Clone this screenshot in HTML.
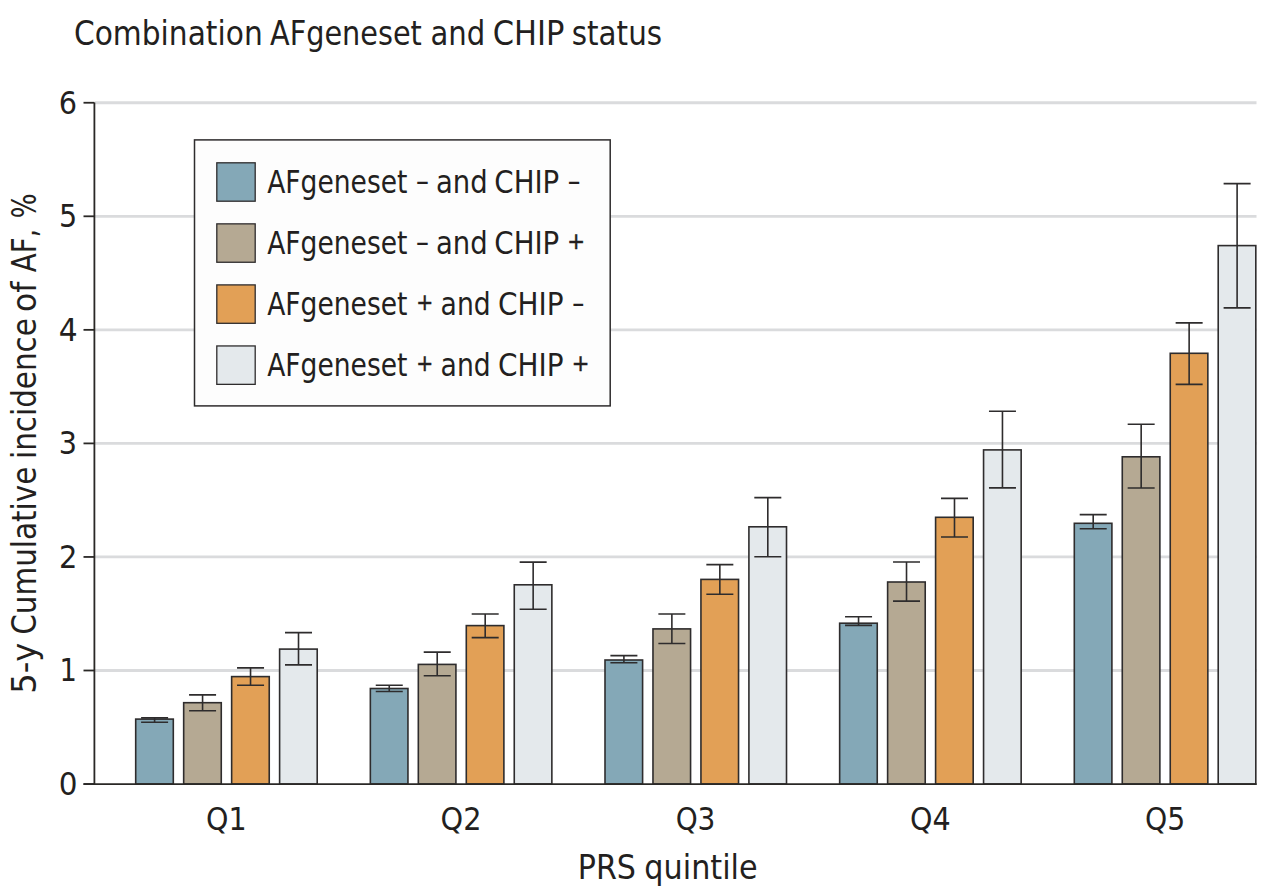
<!DOCTYPE html><html><head><meta charset="utf-8"><title>Combination AFgeneset and CHIP status</title>
<style>html,body{margin:0;padding:0;background:#fff;}svg{display:block;}text{font-family:'DejaVu Sans Condensed', 'DejaVu Sans', 'Liberation Sans', sans-serif;fill:#231f20;font-kerning:none;font-stretch:condensed;}</style></head><body>
<svg width="1269" height="890" viewBox="0 0 1269 890">
<rect x="0" y="0" width="1269" height="890" fill="#fff"/>
<text x="73.94" y="45.00" font-size="33.60" textLength="188.77" lengthAdjust="spacingAndGlyphs">Combination</text>
<text x="270.08" y="45.00" font-size="33.60" textLength="151.79" lengthAdjust="spacingAndGlyphs">AFgeneset</text>
<text x="430.46" y="45.00" font-size="33.60" textLength="54.78" lengthAdjust="spacingAndGlyphs">and</text>
<text x="492.79" y="45.00" font-size="33.60" textLength="71.63" lengthAdjust="spacingAndGlyphs">CHIP</text>
<text x="571.72" y="45.00" font-size="33.60" textLength="90.40" lengthAdjust="spacingAndGlyphs">status</text>
<line x1="95" y1="670.50" x2="1256.5" y2="670.50" stroke="#dadbdd" stroke-width="2.8"/>
<line x1="95" y1="556.95" x2="1256.5" y2="556.95" stroke="#dadbdd" stroke-width="2.8"/>
<line x1="95" y1="443.40" x2="1256.5" y2="443.40" stroke="#dadbdd" stroke-width="2.8"/>
<line x1="95" y1="329.85" x2="1256.5" y2="329.85" stroke="#dadbdd" stroke-width="2.8"/>
<line x1="95" y1="216.30" x2="1256.5" y2="216.30" stroke="#dadbdd" stroke-width="2.8"/>
<line x1="95" y1="102.75" x2="1256.5" y2="102.75" stroke="#dadbdd" stroke-width="2.8"/>
<rect x="194.5" y="139.9" width="415.7" height="266.0" fill="#fdfdfd" stroke="#2e2c2d" stroke-width="1.5"/>
<rect x="216.8" y="162.80" width="38.4" height="38.4" fill="#84a8b7" stroke="#2e2c2d" stroke-width="1.3"/>
<text x="267.20" y="192.50" font-size="31.43" textLength="140.22" lengthAdjust="spacingAndGlyphs">AFgeneset</text>
<text x="415.94" y="191.50" font-size="31.43" textLength="12.91" lengthAdjust="spacingAndGlyphs">–</text>
<text x="436.06" y="192.50" font-size="31.43" textLength="51.62" lengthAdjust="spacingAndGlyphs">and</text>
<text x="494.36" y="192.50" font-size="31.43" textLength="64.87" lengthAdjust="spacingAndGlyphs">CHIP</text>
<text x="567.66" y="191.50" font-size="31.43" textLength="12.66" lengthAdjust="spacingAndGlyphs">–</text>
<rect x="216.8" y="223.85" width="38.4" height="38.4" fill="#b5a993" stroke="#2e2c2d" stroke-width="1.3"/>
<text x="267.20" y="253.50" font-size="31.43" textLength="140.22" lengthAdjust="spacingAndGlyphs">AFgeneset</text>
<text x="415.94" y="252.50" font-size="31.43" textLength="12.91" lengthAdjust="spacingAndGlyphs">–</text>
<text x="436.06" y="253.50" font-size="31.43" textLength="51.62" lengthAdjust="spacingAndGlyphs">and</text>
<text x="494.36" y="253.50" font-size="31.43" textLength="64.87" lengthAdjust="spacingAndGlyphs">CHIP</text>
<text x="567.25" y="249.10" font-size="23.10" textLength="17.78" lengthAdjust="spacingAndGlyphs" stroke="#231f20" stroke-width="0.45">+</text>
<rect x="216.8" y="284.90" width="38.4" height="38.4" fill="#e2a056" stroke="#2e2c2d" stroke-width="1.3"/>
<text x="267.20" y="314.50" font-size="31.43" textLength="140.22" lengthAdjust="spacingAndGlyphs">AFgeneset</text>
<text x="416.16" y="310.10" font-size="23.10" textLength="16.98" lengthAdjust="spacingAndGlyphs" stroke="#231f20" stroke-width="0.45">+</text>
<text x="440.61" y="314.50" font-size="31.43" textLength="50.10" lengthAdjust="spacingAndGlyphs">and</text>
<text x="498.04" y="314.50" font-size="31.43" textLength="65.50" lengthAdjust="spacingAndGlyphs">CHIP</text>
<text x="572.22" y="313.50" font-size="31.43" textLength="12.04" lengthAdjust="spacingAndGlyphs">–</text>
<rect x="216.8" y="345.95" width="38.4" height="38.4" fill="#e4e9ec" stroke="#2e2c2d" stroke-width="1.3"/>
<text x="267.20" y="375.50" font-size="31.43" textLength="140.22" lengthAdjust="spacingAndGlyphs">AFgeneset</text>
<text x="416.16" y="371.10" font-size="23.10" textLength="16.98" lengthAdjust="spacingAndGlyphs" stroke="#231f20" stroke-width="0.45">+</text>
<text x="440.61" y="375.50" font-size="31.43" textLength="50.10" lengthAdjust="spacingAndGlyphs">and</text>
<text x="498.04" y="375.50" font-size="31.43" textLength="65.50" lengthAdjust="spacingAndGlyphs">CHIP</text>
<text x="571.77" y="371.10" font-size="23.10" textLength="17.65" lengthAdjust="spacingAndGlyphs" stroke="#231f20" stroke-width="0.45">+</text>
<rect x="135.70" y="719.10" width="37.60" height="64.95" fill="#84a8b7" stroke="#2e2c2d" stroke-width="1.60"/>
<path d="M154.60 717.90V722.20M141.10 717.90H168.10M141.10 722.20H168.10" stroke="#2e2c2d" stroke-width="1.6" fill="none"/>
<rect x="183.67" y="702.70" width="37.60" height="81.35" fill="#b5a993" stroke="#2e2c2d" stroke-width="1.60"/>
<path d="M202.57 694.90V710.80M189.07 694.90H216.07M189.07 710.80H216.07" stroke="#2e2c2d" stroke-width="1.6" fill="none"/>
<rect x="231.64" y="676.60" width="37.60" height="107.45" fill="#e2a056" stroke="#2e2c2d" stroke-width="1.60"/>
<path d="M250.54 667.90V685.20M237.04 667.90H264.04M237.04 685.20H264.04" stroke="#2e2c2d" stroke-width="1.6" fill="none"/>
<rect x="279.61" y="649.10" width="37.60" height="134.95" fill="#e4e9ec" stroke="#2e2c2d" stroke-width="1.60"/>
<path d="M298.51 632.60V664.90M285.01 632.60H312.01M285.01 664.90H312.01" stroke="#2e2c2d" stroke-width="1.6" fill="none"/>
<rect x="370.35" y="688.50" width="37.60" height="95.55" fill="#84a8b7" stroke="#2e2c2d" stroke-width="1.60"/>
<path d="M389.25 685.30V691.50M375.75 685.30H402.75M375.75 691.50H402.75" stroke="#2e2c2d" stroke-width="1.6" fill="none"/>
<rect x="418.32" y="664.40" width="37.60" height="119.65" fill="#b5a993" stroke="#2e2c2d" stroke-width="1.60"/>
<path d="M437.22 652.10V675.80M423.72 652.10H450.72M423.72 675.80H450.72" stroke="#2e2c2d" stroke-width="1.6" fill="none"/>
<rect x="466.29" y="625.60" width="37.60" height="158.45" fill="#e2a056" stroke="#2e2c2d" stroke-width="1.60"/>
<path d="M485.19 614.00V637.60M471.69 614.00H498.69M471.69 637.60H498.69" stroke="#2e2c2d" stroke-width="1.6" fill="none"/>
<rect x="514.26" y="584.80" width="37.60" height="199.25" fill="#e4e9ec" stroke="#2e2c2d" stroke-width="1.60"/>
<path d="M533.16 562.10V609.30M519.66 562.10H546.66M519.66 609.30H546.66" stroke="#2e2c2d" stroke-width="1.6" fill="none"/>
<rect x="605.00" y="660.00" width="37.60" height="124.05" fill="#84a8b7" stroke="#2e2c2d" stroke-width="1.60"/>
<path d="M623.90 655.60V662.70M610.40 655.60H637.40M610.40 662.70H637.40" stroke="#2e2c2d" stroke-width="1.6" fill="none"/>
<rect x="652.97" y="628.90" width="37.60" height="155.15" fill="#b5a993" stroke="#2e2c2d" stroke-width="1.60"/>
<path d="M671.87 614.00V643.50M658.37 614.00H685.37M658.37 643.50H685.37" stroke="#2e2c2d" stroke-width="1.6" fill="none"/>
<rect x="700.94" y="579.40" width="37.60" height="204.65" fill="#e2a056" stroke="#2e2c2d" stroke-width="1.60"/>
<path d="M719.84 564.60V594.30M706.34 564.60H733.34M706.34 594.30H733.34" stroke="#2e2c2d" stroke-width="1.6" fill="none"/>
<rect x="748.91" y="526.80" width="37.60" height="257.25" fill="#e4e9ec" stroke="#2e2c2d" stroke-width="1.60"/>
<path d="M767.81 497.60V556.70M754.31 497.60H781.31M754.31 556.70H781.31" stroke="#2e2c2d" stroke-width="1.6" fill="none"/>
<rect x="839.65" y="623.20" width="37.60" height="160.85" fill="#84a8b7" stroke="#2e2c2d" stroke-width="1.60"/>
<path d="M858.55 616.70V625.40M845.05 616.70H872.05M845.05 625.40H872.05" stroke="#2e2c2d" stroke-width="1.6" fill="none"/>
<rect x="887.62" y="582.00" width="37.60" height="202.05" fill="#b5a993" stroke="#2e2c2d" stroke-width="1.60"/>
<path d="M906.52 562.00V601.10M893.02 562.00H920.02M893.02 601.10H920.02" stroke="#2e2c2d" stroke-width="1.6" fill="none"/>
<rect x="935.59" y="517.30" width="37.60" height="266.75" fill="#e2a056" stroke="#2e2c2d" stroke-width="1.60"/>
<path d="M954.49 498.40V537.00M940.99 498.40H967.99M940.99 537.00H967.99" stroke="#2e2c2d" stroke-width="1.6" fill="none"/>
<rect x="983.56" y="449.90" width="37.60" height="334.15" fill="#e4e9ec" stroke="#2e2c2d" stroke-width="1.60"/>
<path d="M1002.46 411.30V487.90M988.96 411.30H1015.96M988.96 487.90H1015.96" stroke="#2e2c2d" stroke-width="1.6" fill="none"/>
<rect x="1074.30" y="523.30" width="37.60" height="260.75" fill="#84a8b7" stroke="#2e2c2d" stroke-width="1.60"/>
<path d="M1093.20 514.60V528.70M1079.70 514.60H1106.70M1079.70 528.70H1106.70" stroke="#2e2c2d" stroke-width="1.6" fill="none"/>
<rect x="1122.27" y="456.80" width="37.60" height="327.25" fill="#b5a993" stroke="#2e2c2d" stroke-width="1.60"/>
<path d="M1141.17 424.30V488.00M1127.67 424.30H1154.67M1127.67 488.00H1154.67" stroke="#2e2c2d" stroke-width="1.6" fill="none"/>
<rect x="1170.24" y="353.30" width="37.60" height="430.75" fill="#e2a056" stroke="#2e2c2d" stroke-width="1.60"/>
<path d="M1189.14 322.90V384.40M1175.64 322.90H1202.64M1175.64 384.40H1202.64" stroke="#2e2c2d" stroke-width="1.6" fill="none"/>
<rect x="1218.21" y="245.60" width="37.60" height="538.45" fill="#e4e9ec" stroke="#2e2c2d" stroke-width="1.60"/>
<path d="M1237.11 183.60V307.90M1223.61 183.60H1250.61M1223.61 307.90H1250.61" stroke="#2e2c2d" stroke-width="1.6" fill="none"/>
<path d="M94.4 102.5V784.9M83.5 784.05H1256.6" stroke="#2a2826" stroke-width="1.8" fill="none"/>
<line x1="83.5" y1="784.05" x2="94.4" y2="784.05" stroke="#2a2826" stroke-width="1.8"/>
<text x="58.76" y="794.95" font-size="31.80" textLength="18.78" lengthAdjust="spacingAndGlyphs">0</text>
<line x1="83.5" y1="670.50" x2="94.4" y2="670.50" stroke="#2a2826" stroke-width="1.8"/>
<text x="59.60" y="681.40" font-size="31.80" textLength="17.41" lengthAdjust="spacingAndGlyphs">1</text>
<line x1="83.5" y1="556.95" x2="94.4" y2="556.95" stroke="#2a2826" stroke-width="1.8"/>
<text x="58.98" y="567.85" font-size="31.80" textLength="18.39" lengthAdjust="spacingAndGlyphs">2</text>
<line x1="83.5" y1="443.40" x2="94.4" y2="443.40" stroke="#2a2826" stroke-width="1.8"/>
<text x="58.72" y="454.30" font-size="31.80" textLength="18.25" lengthAdjust="spacingAndGlyphs">3</text>
<line x1="83.5" y1="329.85" x2="94.4" y2="329.85" stroke="#2a2826" stroke-width="1.8"/>
<text x="58.65" y="340.75" font-size="31.80" textLength="18.90" lengthAdjust="spacingAndGlyphs">4</text>
<line x1="83.5" y1="216.30" x2="94.4" y2="216.30" stroke="#2a2826" stroke-width="1.8"/>
<text x="59.00" y="227.20" font-size="31.80" textLength="18.19" lengthAdjust="spacingAndGlyphs">5</text>
<line x1="83.5" y1="102.75" x2="94.4" y2="102.75" stroke="#2a2826" stroke-width="1.8"/>
<text x="58.70" y="113.65" font-size="31.80" textLength="18.29" lengthAdjust="spacingAndGlyphs">6</text>
<text x="206.00" y="829.80" font-size="32.37" textLength="40.61" lengthAdjust="spacingAndGlyphs">Q1</text>
<text x="440.59" y="829.80" font-size="32.37" textLength="40.97" lengthAdjust="spacingAndGlyphs">Q2</text>
<text x="675.64" y="829.80" font-size="32.37" textLength="39.78" lengthAdjust="spacingAndGlyphs">Q3</text>
<text x="910.00" y="829.80" font-size="32.37" textLength="40.68" lengthAdjust="spacingAndGlyphs">Q4</text>
<text x="1145.02" y="829.80" font-size="32.37" textLength="40.24" lengthAdjust="spacingAndGlyphs">Q5</text>
<text x="577.76" y="879.40" font-size="33.79" textLength="58.21" lengthAdjust="spacingAndGlyphs">PRS</text>
<text x="644.34" y="879.40" font-size="33.79" textLength="113.27" lengthAdjust="spacingAndGlyphs">quintile</text>
<g transform="rotate(-90)">
<text x="-693.77" y="36.00" font-size="33.79" textLength="51.02" lengthAdjust="spacingAndGlyphs">5-y</text>
<text x="-634.85" y="36.00" font-size="33.79" textLength="168.21" lengthAdjust="spacingAndGlyphs">Cumulative</text>
<text x="-459.06" y="36.00" font-size="33.79" textLength="140.93" lengthAdjust="spacingAndGlyphs">incidence</text>
<text x="-311.92" y="36.00" font-size="33.79" textLength="30.21" lengthAdjust="spacingAndGlyphs">of</text>
<text x="-272.31" y="36.00" font-size="33.79" textLength="43.70" lengthAdjust="spacingAndGlyphs">AF,</text>
<text x="-218.23" y="36.00" font-size="33.79" textLength="24.87" lengthAdjust="spacingAndGlyphs">%</text>
</g>
</svg></body></html>
